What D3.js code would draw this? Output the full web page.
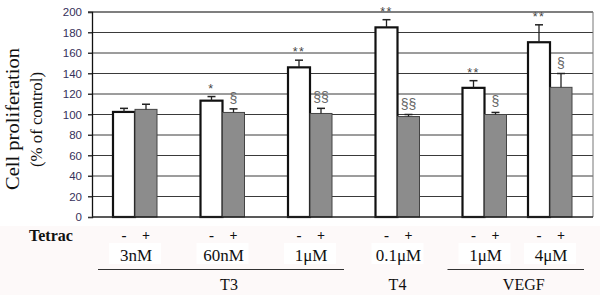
<!DOCTYPE html>
<html>
<head>
<meta charset="utf-8">
<script src="https://cdn.jsdelivr.net/npm/d3@7"></script>
<style>
  body { margin: 0; background: #fff; }
  svg { display: block; }
  .serif { font-family: "Liberation Serif", "DejaVu Serif", serif; }
  .sans { font-family: "Liberation Sans", Arial, sans-serif; }
</style>
</head>
<body>
<svg id="chart"></svg>
<script>
// data
var doses = ["3nM", "60nM", "1\u03bcM ", "0.1\u03bcM", "1\u03bcM", "4\u03bcM"];
var withoutTetrac = [102.5, 113.5, 146, 185, 126, 170.5];
var withoutErr = [3.5, 4, 7, 7.5, 7, 17];
var withTetrac = [105, 102, 101, 98, 100, 126.5];
var withErr = [5, 3.5, 5, 2, 2, 13.5];
var withoutSig = ["", "*", "**", "**", "**", "**"];
var withSig = ["", "\u00a7", "\u00a7\u00a7", "\u00a7\u00a7", "\u00a7", "\u00a7"];
var yTicks = [0, 20, 40, 60, 80, 100, 120, 140, 160, 180, 200];
var agents = ["T3", "T4", "VEGF"];
var agentDoses = [["3nM", "60nM", "1\u03bcM "], ["0.1\u03bcM"], ["1\u03bcM", "4\u03bcM"]];

function init() {
  var W = 600, H = 295;
  var margin = { top: 12, left: 92 };
  var width = 501, height = 205;

  var svg = d3.select("#chart").attr("width", W).attr("height", H);

  // faint tint below the plot like the scanned figure
  svg.append("rect")
    .attr("x", 0).attr("y", 226).attr("width", W).attr("height", H - 226)
    .attr("fill", "#fdf9f9");

  var g = svg.append("g")
    .attr("transform", "translate(" + margin.left + "," + margin.top + ")");

  var y = d3.scaleLinear().domain([0, 200]).range([height, 0]);
  // groups are not evenly spaced in the original
  var x = d3.scaleOrdinal()
    .domain(doses)
    .range([43, 130.5, 218, 305.5, 392.5, 458]);
  var bw = 22;

  // gridlines
  g.selectAll(".grid")
    .data(yTicks.filter(function(d) { return d > 0; }))
    .enter()
    .append("line")
    .attr("x1", -4)
    .attr("x2", width)
    .attr("y1", function(d) { return y(d); })
    .attr("y2", function(d) { return y(d); })
    .attr("stroke", function(d) { return d === 200 ? "#555" : "#3a3a3a"; })
    .attr("stroke-width", function(d) { return d === 200 ? 1.6 : 1; });

  g.append("line")
    .attr("x1", width).attr("x2", width)
    .attr("y1", 0).attr("y2", height)
    .attr("stroke", "#777").attr("stroke-width", 1);

  var yAxis = d3.axisLeft(y).tickValues(yTicks).tickSize(4).tickPadding(6);
  var ya = g.append("g").call(yAxis);
  ya.attr("font-family", null);
  ya.select(".domain").attr("stroke", "#111").attr("stroke-width", 1.3);
  ya.selectAll(".tick line").attr("stroke", "#333");
  ya.selectAll("text")
    .attr("class", "sans")
    .attr("fill", "#35305a")
    .style("font-size", "11.5px");

  // bars without tetrac (white)
  g.selectAll(".barW")
    .data(doses)
    .enter()
    .append("rect")
    .attr("x", function(d) { return x(d) - bw; })
    .attr("y", function(d, i) { return y(withoutTetrac[i]); })
    .attr("width", bw)
    .attr("height", function(d, i) { return height - y(withoutTetrac[i]); })
    .attr("fill", "#fff")
    .attr("stroke", "#111")
    .attr("stroke-width", 2.2);

  // bars with tetrac (grey)
  g.selectAll(".barG")
    .data(doses)
    .enter()
    .append("rect")
    .attr("x", function(d) { return x(d); })
    .attr("y", function(d, i) { return y(withTetrac[i]); })
    .attr("width", bw)
    .attr("height", function(d, i) { return height - y(withTetrac[i]); })
    .attr("fill", "#8c8c8c")
    .attr("stroke", "#444")
    .attr("stroke-width", 1);

  // bottom axis line
  g.append("line")
    .attr("x1", 0).attr("x2", width)
    .attr("y1", height).attr("y2", height)
    .attr("stroke", "#222").attr("stroke-width", 1.5);

  // error bars
  function errBars(vals, errs, dx) {
    doses.forEach(function(d, i) {
      var cx = x(d) + dx;
      var top = y(vals[i] + errs[i]);
      g.append("line")
        .attr("x1", cx).attr("x2", cx)
        .attr("y1", y(vals[i])).attr("y2", top)
        .attr("stroke", "#222").attr("stroke-width", 1.3);
      g.append("line")
        .attr("x1", cx - 4).attr("x2", cx + 4)
        .attr("y1", top).attr("y2", top)
        .attr("stroke", "#222").attr("stroke-width", 1.5);
    });
  }
  errBars(withoutTetrac, withoutErr, -bw / 2);
  errBars(withTetrac, withErr, bw / 2);

  // significance marks
  g.selectAll(".star")
    .data(doses)
    .enter()
    .append("text")
    .attr("class", "sans")
    .attr("x", function(d) { return x(d) - bw / 2; })
    .attr("y", function(d, i) { return y(withoutTetrac[i] + withoutErr[i]) - 4; })
    .attr("text-anchor", "middle")
    .attr("fill", "#444")
    .style("font-size", "12.5px")
    .style("letter-spacing", "1.5px")
    .text(function(d, i) { return withoutSig[i]; });

  g.selectAll(".sect")
    .data(doses)
    .enter()
    .append("text")
    .attr("class", "sans")
    .attr("x", function(d) { return x(d) + bw / 2; })
    .attr("y", function(d, i) { return y(withTetrac[i] + withErr[i]) - 6; })
    .attr("text-anchor", "middle")
    .attr("fill", "#666")
    .style("font-size", "14px")
    .text(function(d, i) { return withSig[i]; });

  // y axis title
  svg.append("text")
    .attr("class", "serif")
    .attr("transform", "translate(19,119) rotate(-90)")
    .attr("text-anchor", "middle")
    .attr("fill", "#111")
    .style("font-size", "18px")
    .attr("textLength", 142)
    .attr("lengthAdjust", "spacingAndGlyphs")
    .text("Cell proliferation");
  svg.append("text")
    .attr("class", "serif")
    .attr("transform", "translate(42,119.5) rotate(-90)")
    .attr("text-anchor", "middle")
    .attr("fill", "#111")
    .style("font-size", "17px")
    .attr("textLength", 95)
    .attr("lengthAdjust", "spacingAndGlyphs")
    .text("(% of control)");

  // tetrac row
  svg.append("text")
    .attr("class", "serif")
    .attr("x", 29).attr("y", 241)
    .attr("fill", "#111")
    .style("font-size", "16px")
    .style("font-weight", "bold")
    .text("Tetrac");

  doses.forEach(function(d) {
    var cx = margin.left + x(d);
    svg.append("text")
      .attr("class", "serif")
      .attr("x", cx - bw / 2).attr("y", 240)
      .attr("text-anchor", "middle")
      .attr("fill", "#111")
      .style("font-size", "15px")
      .style("font-weight", "bold")
      .text("-");
    svg.append("text")
      .attr("class", "serif")
      .attr("x", cx + bw / 2).attr("y", 240)
      .attr("text-anchor", "middle")
      .attr("fill", "#111")
      .style("font-size", "14px")
      .style("font-weight", "bold")
      .text("+");
    // dose label on white box
    svg.append("rect")
      .attr("x", cx - 26).attr("y", 243)
      .attr("width", 52).attr("height", 21)
      .attr("fill", "#fff");
    svg.append("text")
      .attr("class", "serif")
      .attr("x", cx + 1).attr("y", 261)
      .attr("text-anchor", "middle")
      .attr("fill", "#111")
      .style("font-size", "17px")
      .text(d.trim());
  });

  // agent labels with bracket lines
  agents.forEach(function(a, i) {
    var ds = agentDoses[i];
    var x0 = margin.left + x(ds[0]) - bw - 15;
    var x1 = margin.left + x(ds[ds.length - 1]) + bw + 12;
    if (ds.length > 1) {
      svg.append("line")
        .attr("x1", x0).attr("x2", x1)
        .attr("y1", 269.5).attr("y2", 269.5)
        .attr("stroke", "#333").attr("stroke-width", 1.2);
    }
    var cx = ds.length > 1 ? (x0 + x1) / 2 + 8 : margin.left + x(ds[0]);
    svg.append("text")
      .attr("class", "serif")
      .attr("x", cx).attr("y", 290)
      .attr("text-anchor", "middle")
      .attr("fill", "#111")
      .style("font-size", "16px")
      .text(a);
  });
}

window.onload = init;
</script>
</body>
</html>
